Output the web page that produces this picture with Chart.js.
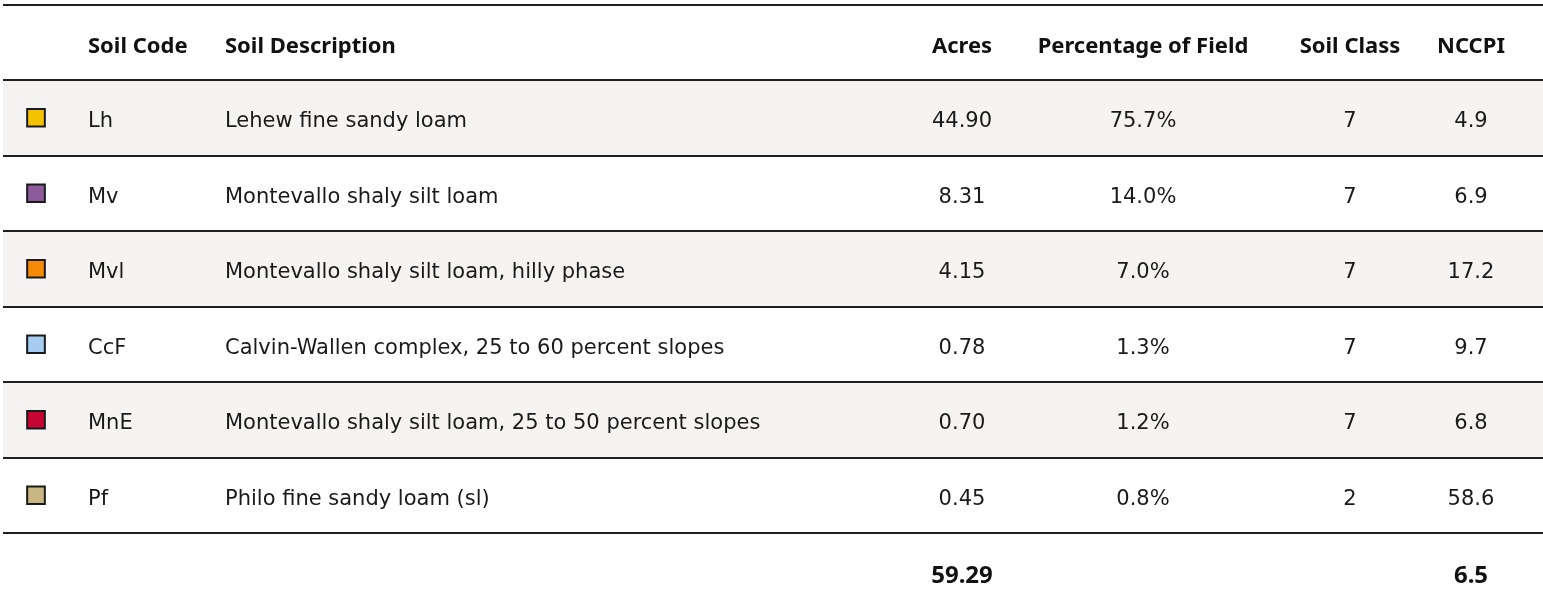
<!DOCTYPE html>
<html>
<head>
<meta charset="utf-8">
<script src="https://cdn.jsdelivr.net/npm/chart.js@4/dist/chart.umd.min.js"></script>
<style>
  html, body { margin: 0; padding: 0; background: #ffffff; }
  #wrap { width: 1543px; height: 604px; position: relative; }
</style>
</head>
<body>
<div id="wrap"><canvas id="c"></canvas></div>
<script>
// ---- data ----
const headers = ['', 'Soil Code', 'Soil Description', 'Acres', 'Percentage of Field', 'Soil Class', 'NCCPI'];
const soilCodes = ['Lh', 'Mv', 'Mvl', 'CcF', 'MnE', 'Pf'];
const soilDescriptions = [
  'Lehew fine sandy loam',
  'Montevallo shaly silt loam',
  'Montevallo shaly silt loam, hilly phase',
  'Calvin-Wallen complex, 25 to 60 percent slopes',
  'Montevallo shaly silt loam, 25 to 50 percent slopes',
  'Philo fine sandy loam (sl)'
];
const acres = [44.90, 8.31, 4.15, 0.78, 0.70, 0.45];
const percentOfField = [75.7, 14.0, 7.0, 1.3, 1.2, 0.8];
const soilClass = [7, 7, 7, 7, 7, 2];
const nccpi = [4.9, 6.9, 17.2, 9.7, 6.8, 58.6];
const totalAcres = 59.29;
const totalNccpi = 6.5;
const swatchColors = ['#F4C300', '#8D5A9B', '#F58A06', '#A6CDF1', '#C70535', '#C8B783'];

// ---- layout (styles/positions, not data) ----
const layout = {
  width: 1543,
  swatchX: 36,
  codeX: 88,
  descX: 225,
  acresX: 962,
  pctX: 1143,
  classX: 1350,
  nccpiX: 1471,
  lineLeft: 3,
  lineRight: 1543,
  yMin: -0.56,
  yMax: 7.44
};

const nRows = soilCodes.length;
const rowIndex = soilCodes.map((_, i) => i + 1);
const totalRow = nRows + 1;

const tablePlugin = {
  id: 'tablePlugin',
  beforeDatasetsDraw(chart) {
    const ctx = chart.ctx;
    const xs = chart.scales.x, ys = chart.scales.y;
    const L = xs.getPixelForValue(layout.lineLeft), R = xs.getPixelForValue(layout.lineRight);
    ctx.save();
    rowIndex.forEach((r, i) => {
      if (i % 2 === 0) {
        const t = ys.getPixelForValue(r - 0.5);
        const b = ys.getPixelForValue(r + 0.5);
        ctx.fillStyle = '#F5F4F2';
        ctx.fillRect(L, t, R - L, b - t);
      }
    });
    ctx.strokeStyle = '#1f1f1f';
    ctx.lineWidth = 2;
    for (let r = 0; r <= totalRow; r++) {
      const y = Math.round(ys.getPixelForValue(r - 0.5));
      ctx.beginPath();
      ctx.moveTo(L, y);
      ctx.lineTo(R, y);
      ctx.stroke();
    }
    ctx.restore();
  },
  afterDatasetsDraw(chart) {
    const ctx = chart.ctx;
    const xs = chart.scales.x, ys = chart.scales.y;
    const X = v => xs.getPixelForValue(v);
    ctx.save();
    ctx.textBaseline = 'alphabetic';
    ctx.fillStyle = '#111111';
    ctx.font = 'bold 22px "Noto Sans"';
    const hy = ys.getPixelForValue(0) + 11;
    const hPos = [null, [layout.codeX, 'left'], [layout.descX, 'left'], [layout.acresX, 'center'], [layout.pctX, 'center'], [layout.classX, 'center'], [layout.nccpiX, 'center']];
    headers.forEach((h, i) => {
      if (!hPos[i]) return;
      ctx.textAlign = hPos[i][1];
      ctx.fillText(h, X(hPos[i][0]), hy);
    });
    ctx.fillStyle = '#1a1a1a';
    ctx.font = '21px "DejaVu Sans"';
    rowIndex.forEach((r, i) => {
      const y = ys.getPixelForValue(r) + 9.5;
      ctx.textAlign = 'left';
      ctx.fillText(soilCodes[i], X(layout.codeX), y);
      ctx.fillText(soilDescriptions[i], X(layout.descX), y);
      ctx.textAlign = 'center';
      ctx.fillText(acres[i].toFixed(2), X(layout.acresX), y);
      ctx.fillText(percentOfField[i].toFixed(1) + '%', X(layout.pctX), y);
      ctx.fillText(String(soilClass[i]), X(layout.classX), y);
      ctx.fillText(nccpi[i].toFixed(1), X(layout.nccpiX), y);
    });
    ctx.fillStyle = '#111111';
    ctx.font = 'bold 24px "Noto Sans"';
    const ty = ys.getPixelForValue(totalRow) + 12;
    ctx.textAlign = 'center';
    ctx.fillText(totalAcres.toFixed(2), X(layout.acresX), ty);
    ctx.fillText(totalNccpi.toFixed(1), X(layout.nccpiX), ty);
    ctx.restore();
  }
};

new Chart(document.getElementById('c'), {
  type: 'scatter',
  data: {
    datasets: [{
      label: 'Soil swatches',
      data: rowIndex.map(r => ({ x: layout.swatchX, y: r })),
      pointStyle: 'rect',
      pointRadius: 12.5,
      pointHoverRadius: 12.5,
      backgroundColor: swatchColors,
      borderColor: '#1a1a1a',
      borderWidth: 2,
      clip: false
    }]
  },
  options: {
    responsive: true,
    maintainAspectRatio: false,
    animation: false,
    layout: { padding: 0, autoPadding: false },
    plugins: { legend: { display: false }, tooltip: { enabled: false } },
    scales: {
      x: { type: 'linear', display: false, min: 0, max: layout.width },
      y: { type: 'linear', display: false, reverse: true, min: layout.yMin, max: layout.yMax }
    }
  },
  plugins: [tablePlugin]
});
</script>
</body>
</html>
